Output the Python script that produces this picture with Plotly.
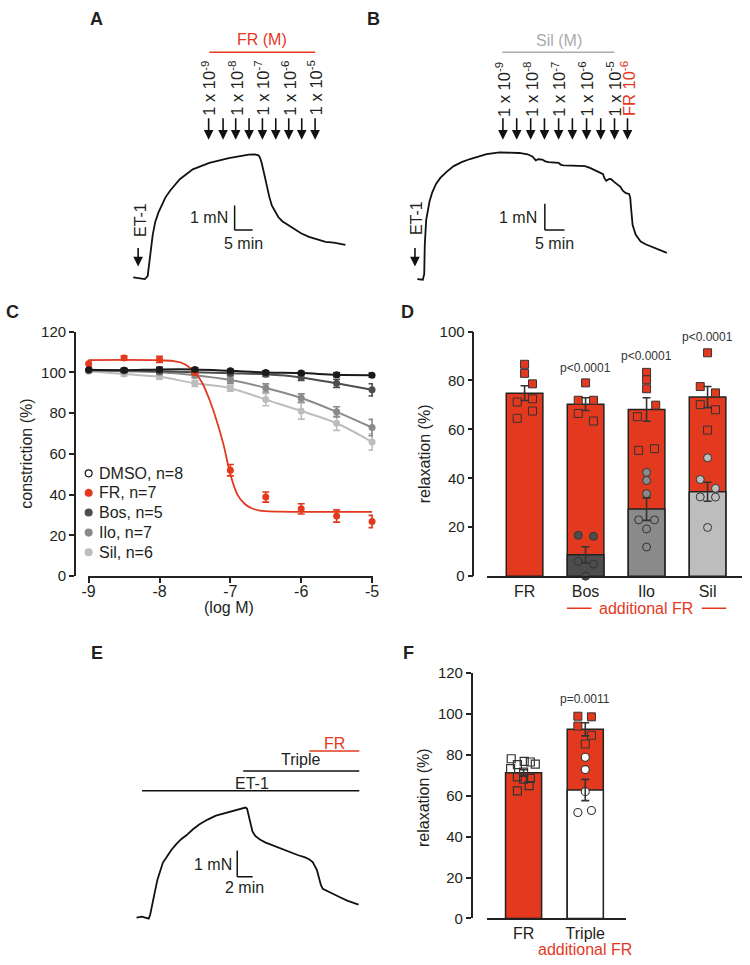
import plotly.graph_objects as go

W, H = 750, 965
FONT = "Liberation Sans, Arial, Helvetica, sans-serif"
TXT = "#231F20"
RED = "#E3391F"
BOS = "#4D4D4D"
ILO = "#8A8A8A"
SIL = "#BDBDBD"
SILTXT = "#ABABAB"
LINE = "#222222"

# ---------------- data ----------------
# Panel A: FR concentration-response trace (min, mN)
a_t = [0.0, 1.55, 3.2, 4.0, 4.75, 5.4, 6.1, 7.0, 7.9, 8.9, 10.2, 12.9, 16.5, 21.1, 26.5,
       32.0, 33.7, 34.7, 35.1, 35.6, 36.3, 37.0, 37.7, 38.4, 39.2, 40.2, 41.3, 42.9, 44.6,
       46.5, 48.7, 51.1, 53.3, 55.6, 58.8]
a_f = [0.03, 0.0, -0.04, 0.08, 0.96, 1.76, 2.29, 2.68, 2.96, 3.28, 3.56, 4.03, 4.43, 4.69, 4.89,
       5.03, 5.04, 5.0, 4.92, 4.69, 4.24, 3.76, 3.32, 2.96, 2.72, 2.49, 2.32, 2.16, 2.0,
       1.83, 1.68, 1.56, 1.48, 1.45, 1.36]
a_add_t = [20.9, 24.9, 28.4, 32.1, 35.8, 39.5, 43.1, 46.7, 50.4]
a_conc_exp = [-9, -8, -7, -6, -5]
a_et1_t = 1.36

# Panel B: sildenafil then FR trace (min, mN)
b_t = [0.0, 1.4, 1.75, 1.9, 2.25, 2.6, 3.1, 3.8, 4.75, 5.9, 7.5, 9.25, 11.25, 13.4, 15.5, 17.6,
       20.9, 23.25, 25.9, 28.0, 29.25, 30.1, 30.75, 31.75, 32.5, 33.4, 34.5, 35.9, 36.5, 37.2,
       39.25, 41.0, 42.6, 44.0, 45.1, 46.25, 47.2, 47.5, 48.0, 48.75, 49.25, 50.0, 50.9, 51.6,
       52.2, 53.0, 53.8, 54.1, 54.25, 54.7, 55.5, 56.75, 58.0, 59.25, 61.25, 63.4]
b_f = [0.0, -0.02, 0.19, 1.31, 2.25, 2.56, 2.96, 3.31, 3.63, 3.87, 4.10, 4.31, 4.46, 4.58, 4.68, 4.77,
       4.83, 4.82, 4.81, 4.76, 4.68, 4.53, 4.57, 4.56, 4.49, 4.46, 4.44, 4.43, 4.36, 4.34,
       4.33, 4.32, 4.31, 4.23, 4.16, 4.08, 4.0, 3.86, 3.75, 3.82, 3.81, 3.71, 3.62, 3.52,
       3.37, 3.28, 3.25, 3.11, 2.81, 2.06, 1.69, 1.43, 1.33, 1.25, 1.12, 1.0]
b_add_t = [21.75, 25.25, 28.8, 32.3, 35.9, 39.4, 43.0, 46.6, 50.1, 53.4]
b_conc_exp = [-9, -8, -7, -6, -5]
b_et1_t = -0.6

# Panel C: concentration-response curves
c_logM = [-9, -8.5, -8, -7.5, -7, -6.5, -6, -5.5, -5]
c_dmso = [101.2, 101.0, 101.4, 101.4, 100.7, 99.9, 99.6, 98.8, 98.6]
c_dmso_err = [0.8, 0.8, 1.0, 0.8, 0.8, 0.8, 0.8, 1.0, 1.0]
c_fr = [104.2, 107.0, 106.3, 100.0, 52.0, 38.8, 33.0, 29.5, 26.8]
c_fr_err = [1.5, 1.0, 1.5, 1.0, 2.8, 2.5, 2.5, 3.0, 3.0]
c_bos = [101.0, 101.0, 100.5, 100.0, 99.5, 99.0, 97.5, 94.6, 91.4]
c_bos_err = [0.8, 0.8, 0.8, 0.8, 1.0, 1.0, 1.5, 2.0, 3.0]
c_ilo = [101.0, 100.5, 100.0, 98.6, 96.2, 92.3, 87.4, 80.6, 72.9]
c_ilo_err = [0.8, 0.8, 1.0, 1.2, 1.5, 2.0, 2.0, 2.5, 4.0]
c_sil = [100.5, 99.1, 97.8, 94.6, 92.2, 86.6, 81.0, 75.0, 65.8]
c_sil_err = [0.8, 1.0, 1.2, 1.5, 1.5, 3.0, 4.0, 3.5, 4.0]
c_fit_logM = [-9.0, -8.0, -7.8, -7.7, -7.6, -7.5, -7.4, -7.3, -7.2, -7.1, -7.0, -6.9, -6.8,
              -6.7, -6.6, -6.5, -6.3, -6.0, -5.0]
c_fit_fr = [106.0, 105.9, 105.5, 104.8, 103.0, 100.0, 95.0, 87.0, 77.0, 65.0, 50.0, 40.0, 35.5,
            33.3, 32.3, 31.9, 31.6, 31.5, 31.5]
c_legend = ["DMSO, n=8", "FR, n=7", "Bos, n=5", "Ilo, n=7", "Sil, n=6"]
c_xticks = [-9, -8, -7, -6, -5]

# Panel D: relaxation bars
d_cats = ["FR", "Bos", "Ilo", "Sil"]
d_total = [74.8, 70.3, 68.1, 73.2]
d_total_err = [3.0, 2.6, 4.8, 4.3]
d_first = [8.7, 27.4, 34.5]          # Bos, Ilo, Sil alone
d_first_err = [3.3, 4.6, 3.9]
d_pvals = ["p<0.0001", "p<0.0001", "p<0.0001"]
d_sq = [[86.6, 82.9, 78.6, 72.5, 71.2, 67.5, 64.5],
        [79.0, 71.9, 71.9, 66.5, 63.4],
        [83.3, 80.3, 76.6, 69.9, 65.2, 51.4, 52.1],
        [91.3, 77.5, 74.9, 70.1, 68.0, 59.7]]
d_sq_jit = [[0, 0, 0.13, 0.13, -0.12, 0.13, -0.12],
            [0, -0.12, 0.13, -0.12, 0.13],
            [0, 0, 0, 0.15, -0.15, -0.13, 0.13],
            [0, -0.12, 0.13, -0.12, 0.13, 0]]
d_ci = [[16.7, 16.3, 6.0, 4.9, 0.0],
        [42.4, 39.1, 33.7, 23.0, 23.0, 19.3, 11.9],
        [48.4, 39.5, 35.9, 32.4, 32.3, 19.9]]
d_ci_jit = [[-0.12, 0.13, -0.12, 0.13, 0],
            [0, 0, 0, -0.13, 0.13, 0, 0],
            [0, -0.12, 0.13, -0.12, 0.13, 0]]

# Panel E: triple therapy trace (min, mN)
e_t = [0.0, 0.68, 1.57, 1.76, 1.99, 2.2, 2.42, 2.71, 3.06, 3.41, 3.9, 4.5, 5.17, 5.77, 6.45, 7.3,
       8.15, 9.2, 10.27, 11.25, 12.4, 13.3, 14.09, 14.3, 14.43, 14.6, 14.73, 15.0, 15.36, 15.96,
       16.64, 17.5, 18.34, 19.15, 20.04, 20.93, 21.73, 22.33, 22.8, 23.1, 23.35, 23.6, 23.86,
       24.1, 24.5, 25.0, 25.55, 26.4, 27.26, 27.94, 28.74]
e_f = [0.02, 0.06, -0.02, 0.13, 0.46, 0.84, 1.08, 1.48, 1.83, 2.12, 2.33, 2.6, 2.83, 3.01, 3.16, 3.39,
       3.58, 3.76, 3.91, 3.99, 4.1, 4.16, 4.22, 4.18, 4.01, 3.76, 3.58, 3.31, 3.14, 3.0,
       2.89, 2.79, 2.7, 2.6, 2.48, 2.4, 2.33, 2.25, 2.14, 2.0, 1.83, 1.55, 1.27,
       1.12, 1.06, 0.97, 0.89, 0.79, 0.67, 0.6, 0.52]
e_treat = ["ET-1", "Triple", "FR"]
e_treat_start = [0.71, 13.8, 22.37]
e_treat_end = [28.83, 28.83, 28.83]

# Panel F
f_cats = ["FR", "Triple"]
f_total = [71.2, 92.5]
f_total_err = [1.5, 3.2]
f_first = [62.8]
f_first_err = [5.2]
f_pval = "p=0.0011"
f_fr_sq = [78.1, 76.8, 76.5, 75.2, 75.5, 73.3, 71.6, 69.2, 68.1, 68.5, 64.9, 62.4]
f_fr_jit = [-0.2, 0.01, 0.11, -0.1, 0.19, -0.21, 0.0, -0.1, 0.0, 0.11, 0.09, -0.1]
f_tr_sq = [98.9, 98.6, 94.1, 89.6, 85.3]
f_tr_sq_jit = [-0.12, 0.1, -0.12, 0.1, 0]
f_tr_ci = [78.8, 72.8, 62.0, 51.8, 52.8]
f_tr_ci_jit = [0, 0, 0, -0.12, 0.1]


# ---------------- helpers ----------------
def PX(x):
    return x / W


def PY(y):
    return 1 - y / H


def txt(x, y, s, size=16, color=TXT, xa="center", ya="middle", angle=0):
    return dict(x=PX(x), y=PY(y), xref="paper", yref="paper", text=s, showarrow=False,
                font=dict(size=size, color=color, family=FONT), xanchor=xa, yanchor=ya,
                textangle=angle)


def pline(x0, x1, y, color, w=1.5):
    return dict(type="line", xref="paper", yref="paper", x0=PX(x0), x1=PX(x1),
                y0=PY(y), y1=PY(y), line=dict(color=color, width=w))


def arrow(t, xref, y_head, length=23):
    return dict(x=t, y=PY(y_head), xref=xref, yref="paper", ax=0, ay=-length, text="",
                showarrow=True, arrowhead=2, arrowsize=1.2, arrowwidth=1.6, arrowcolor="#111")


def vlabel(t, xref, ycenter, s, color=TXT):
    return dict(x=t, y=PY(ycenter), xref=xref, yref="paper", showarrow=False, text=s, textangle=-90,
                xanchor="center", yanchor="middle", font=dict(size=16.5, color=color, family=FONT))


fig = go.Figure()
ann = []
shp = []

# ---------------- Panel A ----------------
fig.add_trace(go.Scatter(x=a_t, y=a_f, mode="lines", line=dict(color="#111", width=1.8),
                         xaxis="x", yaxis="y", showlegend=False))
for t in a_add_t:
    ann.append(arrow(t, "x", 133))
for k, e in enumerate(a_conc_exp):
    ann.append(vlabel(a_add_t[2 * k], "x", 80.5, "1 x 10<sup>%d</sup>" % e))
ann.append(txt(260, 31, "FR (M)", 16, RED))
shp.append(pline(206.7, 314.3, 44, RED))
ann.append(arrow(a_et1_t, "x", 262, 20))
ann.append(txt(136, 215, "ET-1", 16, TXT, angle=-90))
shp += [dict(type="line", xref="x", yref="y", x0=28.1, x1=28.1, y0=1.96, y1=2.96,
             line=dict(color="#111", width=1.5)),
        dict(type="line", xref="x", yref="y", x0=28.1, x1=33.1, y0=1.96, y1=1.96,
             line=dict(color="#111", width=1.5))]
ann.append(txt(228, 212, "1 mN", 16, TXT, xa="right"))
ann.append(txt(241, 238.5, "5 min", 16))

# ---------------- Panel B ----------------
fig.add_trace(go.Scatter(x=b_t, y=b_f, mode="lines", line=dict(color="#111", width=1.8),
                         xaxis="x2", yaxis="y2", showlegend=False))
for t in b_add_t:
    ann.append(arrow(t, "x2", 133))
for k, e in enumerate(b_conc_exp):
    ann.append(vlabel(b_add_t[2 * k], "x2", 81.5, "1 x 10<sup>%d</sup>" % e))
ann.append(vlabel(b_add_t[-1], "x2", 81, "FR 10<sup>-6</sup>", RED))
ann.append(txt(561.5, 32, "Sil (M)", 16, SILTXT))
shp.append(pline(504.3, 618.3, 44, SILTXT))
ann.append(arrow(b_et1_t, "x2", 262, 20))
ann.append(txt(416.5, 213, "ET-1", 16, TXT, angle=-90))
shp += [dict(type="line", xref="x2", yref="y2", x0=32.4, x1=32.4, y0=1.87, y1=2.87,
             line=dict(color="#111", width=1.5)),
        dict(type="line", xref="x2", yref="y2", x0=32.4, x1=37.4, y0=1.87, y1=1.87,
             line=dict(color="#111", width=1.5))]
ann.append(txt(542, 212, "1 mN", 16, TXT, xa="right"))
ann.append(txt(557, 238.5, "5 min", 16))

# ---------------- Panel C ----------------
series = [(c_sil, c_sil_err, SIL), (c_ilo, c_ilo_err, ILO), (c_bos, c_bos_err, BOS)]
for vals, err, col in series:
    fig.add_trace(go.Scatter(x=c_logM, y=vals, mode="lines", line=dict(color=col, width=2, shape="spline"),
                             xaxis="x3", yaxis="y3", showlegend=False))
    fig.add_trace(go.Scatter(x=c_logM, y=vals, mode="markers", cliponaxis=False,
                             marker=dict(color=col, size=7),
                             error_y=dict(type="data", array=err, color=col, thickness=1.6, width=3.5),
                             xaxis="x3", yaxis="y3", showlegend=False))
fig.add_trace(go.Scatter(x=c_fit_logM, y=c_fit_fr, mode="lines", line=dict(color=RED, width=1.8, shape="spline"),
                         xaxis="x3", yaxis="y3", showlegend=False))
fig.add_trace(go.Scatter(x=c_logM, y=c_fr, mode="markers", cliponaxis=False, marker=dict(color=RED, size=7),
                         error_y=dict(type="data", array=c_fr_err, color=RED, thickness=1.6, width=3.5),
                         xaxis="x3", yaxis="y3", showlegend=False))
fig.add_trace(go.Scatter(x=c_logM, y=c_dmso, mode="lines+markers", cliponaxis=False,
                         line=dict(color="#1A1A1A", width=2, shape="spline"),
                         marker=dict(color="#1A1A1A", size=7),
                         error_y=dict(type="data", array=c_dmso_err, color="#1A1A1A", thickness=1.6, width=3.5),
                         xaxis="x3", yaxis="y3", showlegend=False))
leg_cols = [("white", "#111"), (RED, RED), (BOS, BOS), (ILO, ILO), (SIL, SIL)]
leg_rows = [472.7, 492.5, 512.5, 533, 553]
for (fc, lc), ry, lab in zip(leg_cols, leg_rows, c_legend):
    shp.append(dict(type="circle", xref="paper", yref="paper", x0=PX(80.5), x1=PX(87.5),
                    y0=PY(ry + 3.5), y1=PY(ry - 3.5), fillcolor=fc, line=dict(color=lc, width=1.2)))
    ann.append(txt(92, ry, lab, 16, TXT, xa="left"))
ann.append(txt(20, 453, "constriction (%)", 16, TXT, angle=-90))
ann.append(txt(227, 609, "(log M)", 16))

# ---------------- Panel D ----------------
d_x = list(range(len(d_cats)))
fig.add_trace(go.Bar(x=d_x, y=d_total, width=0.6, marker=dict(color=RED, line=dict(color=LINE, width=1.5)),
                     xaxis="x4", yaxis="y4", showlegend=False))
fig.add_trace(go.Bar(x=d_x[1:], y=d_first, width=0.6,
                     marker=dict(color=[BOS, ILO, SIL], line=dict(color=LINE, width=1.5)),
                     xaxis="x4", yaxis="y4", showlegend=False))
ci_cols = [BOS, ILO, SIL]
for i in range(1, 4):
    fig.add_trace(go.Scatter(x=[i + j for j in d_ci_jit[i - 1]], y=d_ci[i - 1], mode="markers",
                             cliponaxis=False,
                             marker=dict(symbol="circle", size=8, color=ci_cols[i - 1],
                                         line=dict(color="#333", width=1)),
                             xaxis="x4", yaxis="y4", showlegend=False))
for i in range(4):
    fig.add_trace(go.Scatter(x=[i + j for j in d_sq_jit[i]], y=d_sq[i], mode="markers", cliponaxis=False,
                             marker=dict(symbol="square", size=8, color=RED, line=dict(color="#333", width=1)),
                             xaxis="x4", yaxis="y4", showlegend=False))
fig.add_trace(go.Scatter(x=d_x, y=d_total, mode="markers", marker=dict(size=1, opacity=0),
                         error_y=dict(type="data", array=d_total_err, color="#333", thickness=1.6, width=4),
                         xaxis="x4", yaxis="y4", showlegend=False))
fig.add_trace(go.Scatter(x=d_x[1:], y=d_first, mode="markers", marker=dict(size=1, opacity=0),
                         error_y=dict(type="data", array=d_first_err, color="#333", thickness=1.6, width=4),
                         xaxis="x4", yaxis="y4", showlegend=False))
for i, (p, py) in enumerate(zip(d_pvals, [365, 353.5, 333.5])):
    ann.append(dict(x=i + 1, y=PY(py), xref="x4", yref="paper", text=p,
                    showarrow=False, font=dict(size=12, color="#333", family=FONT),
                    xanchor="center", yanchor="middle"))
ann.append(txt(425, 453, "relaxation (%)", 16, TXT, angle=-90))
ann.append(txt(650, 610, "additional FR", 16, RED))
shp.append(pline(570, 595, 610, RED))
shp.append(pline(707, 732, 610, RED))

# ---------------- Panel E ----------------
fig.add_trace(go.Scatter(x=e_t, y=e_f, mode="lines", line=dict(color="#111", width=1.8),
                         xaxis="x5", yaxis="y5", showlegend=False))
e_rows = [795.7, 775.7, 755.3]
e_cols = ["#111", "#111", RED]
e_lab_y = [788.5, 764, 747.5]
for name, s, e, ry, col, ly in zip(e_treat, e_treat_start, e_treat_end, e_rows, e_cols, e_lab_y):
    shp.append(dict(type="line", xref="x5", yref="paper", x0=s, x1=e, y0=PY(ry), y1=PY(ry),
                    line=dict(color=col, width=1.6)))
    ann.append(dict(x=(s + e) / 2 if name != "ET-1" else 14.9, y=PY(ly), xref="x5", yref="paper",
                    text=name, showarrow=False, font=dict(size=16, color=col if col == RED else TXT, family=FONT),
                    xanchor="center", yanchor="middle"))
shp += [dict(type="line", xref="x5", yref="y5", x0=13.03, x1=13.03, y0=1.58, y1=2.58,
             line=dict(color="#111", width=1.5)),
        dict(type="line", xref="x5", yref="y5", x0=13.03, x1=15.03, y0=1.58, y1=1.58,
             line=dict(color="#111", width=1.5))]
ann.append(txt(231.5, 870.5, "1 mN", 16, TXT, xa="right"))
ann.append(txt(242.7, 894, "2 min", 16))

# ---------------- Panel F ----------------
f_x = list(range(len(f_cats)))
fig.add_trace(go.Bar(x=f_x, y=f_total, width=0.585, marker=dict(color=RED, line=dict(color=LINE, width=1.5)),
                     xaxis="x6", yaxis="y6", showlegend=False))
fig.add_trace(go.Bar(x=[1], y=f_first, width=0.585, marker=dict(color="white", line=dict(color=LINE, width=1.5)),
                     xaxis="x6", yaxis="y6", showlegend=False))
fig.add_trace(go.Scatter(x=[0 + j for j in f_fr_jit], y=f_fr_sq, mode="markers", cliponaxis=False,
                         marker=dict(symbol="square-open", size=8, color="#333", line=dict(width=1.2)),
                         xaxis="x6", yaxis="y6", showlegend=False))
fig.add_trace(go.Scatter(x=[1 + j for j in f_tr_ci_jit], y=f_tr_ci, mode="markers", cliponaxis=False,
                         marker=dict(symbol="circle", size=8, color="white", line=dict(color="#333", width=1.1)),
                         xaxis="x6", yaxis="y6", showlegend=False))
fig.add_trace(go.Scatter(x=[1 + j for j in f_tr_sq_jit], y=f_tr_sq, mode="markers", cliponaxis=False,
                         marker=dict(symbol="square", size=8, color=RED, line=dict(color="#333", width=1)),
                         xaxis="x6", yaxis="y6", showlegend=False))
fig.add_trace(go.Scatter(x=f_x, y=f_total, mode="markers", marker=dict(size=1, opacity=0),
                         error_y=dict(type="data", array=f_total_err, color="#333", thickness=1.6, width=4),
                         xaxis="x6", yaxis="y6", showlegend=False))
fig.add_trace(go.Scatter(x=[1], y=f_first, mode="markers", marker=dict(size=1, opacity=0),
                         error_y=dict(type="data", array=f_first_err, color="#333", thickness=1.6, width=4),
                         xaxis="x6", yaxis="y6", showlegend=False))
ann.append(txt(588.3, 702.5, f_pval, 12, "#333"))
ann.append(txt(425, 803, "relaxation (%)", 16, TXT, angle=-90))
ann.append(txt(588.3, 957.5, "additional FR", 16, RED))

# ---------------- panel letters ----------------
for s, x, y in [("A", 92, 10), ("B", 373, 10), ("C", 7, 308), ("D", 408, 308), ("E", 92, 656), ("F", 409, 656)]:
    ann.append(dict(x=PX(x), y=PY(y), xref="paper", yref="paper", text="<b>%s</b>" % s, showarrow=False,
                    font=dict(size=18, color=TXT, family=FONT), xanchor="center", yanchor="middle"))

# ---------------- axes ----------------
hidden = dict(visible=False, showgrid=False, zeroline=False, fixedrange=True)
axfont = dict(size=15, color=TXT, family=FONT)
common_y = dict(showline=True, linecolor=LINE, linewidth=1.6, ticks="outside", ticklen=5, tickwidth=1.6,
                tickcolor=LINE, showgrid=False, zeroline=False, tickfont=axfont, anchor="free")
common_x = dict(showline=True, linecolor=LINE, linewidth=1.6, showgrid=False, zeroline=False,
                tickfont=dict(size=16, color=TXT, family=FONT))

layout = dict(
    width=W, height=H, margin=dict(l=0, r=0, t=0, b=0), paper_bgcolor="white", plot_bgcolor="rgba(0,0,0,0)",
    barmode="overlay", showlegend=False, font=dict(family=FONT, color=TXT),
    xaxis=dict(hidden, domain=[PX(118), PX(352)], range=[-3.08, 60.73], anchor="y"),
    yaxis=dict(hidden, domain=[PY(285), PY(140)], range=[-0.44, 5.36], anchor="x"),
    xaxis2=dict(hidden, domain=[PX(405), PX(690)], range=[-3.25, 68.0], anchor="y2"),
    yaxis2=dict(hidden, domain=[PY(285), PY(140)], range=[-0.375, 5.056], anchor="x2"),
    xaxis3=dict(common_x, domain=[PX(83), PX(373)], range=[-9 - 1 / 72, -5 + 1 / 72], anchor="y3",
                tickvals=c_xticks, ticktext=[str(v) for v in c_xticks], ticks="outside", ticklen=5,
                tickwidth=1.6, tickcolor=LINE, ticklabelstandoff=-5),
    yaxis3=dict(common_y, domain=[PY(577.3), PY(328.3)], range=[0, 120], position=PX(70),
                tickvals=[0, 20, 40, 60, 80, 100, 120]),
    xaxis4=dict(common_x, domain=[PX(489), PX(748)], range=[-0.613, 3.565], anchor="y4",
                tickvals=d_x, ticktext=d_cats, ticks=""),
    yaxis4=dict(common_y, domain=[PY(577.3), PY(328.3)], range=[0, 100], position=PX(475),
                tickvals=[0, 20, 40, 60, 80, 100]),
    xaxis5=dict(hidden, domain=[PX(125), PX(365)], range=[-0.98, 29.59], anchor="y5"),
    yaxis5=dict(hidden, domain=[PY(935), PY(740)], range=[-0.356, 6.948], anchor="x5"),
    xaxis6=dict(common_x, domain=[PX(489), PX(630)], range=[-0.59, 1.659], anchor="y6",
                tickvals=f_x, ticktext=f_cats, ticks=""),
    yaxis6=dict(common_y, domain=[PY(925.7), PY(676)], range=[0, 120], position=PX(473.3),
                tickvals=[0, 20, 40, 60, 80, 100, 120]),
    annotations=ann, shapes=shp,
)
fig.update_layout(**layout)
fig.write_html("out.html", config={"displayModeBar": False},
               post_script="document.body.style.margin='0';document.body.style.overflow='hidden';")
